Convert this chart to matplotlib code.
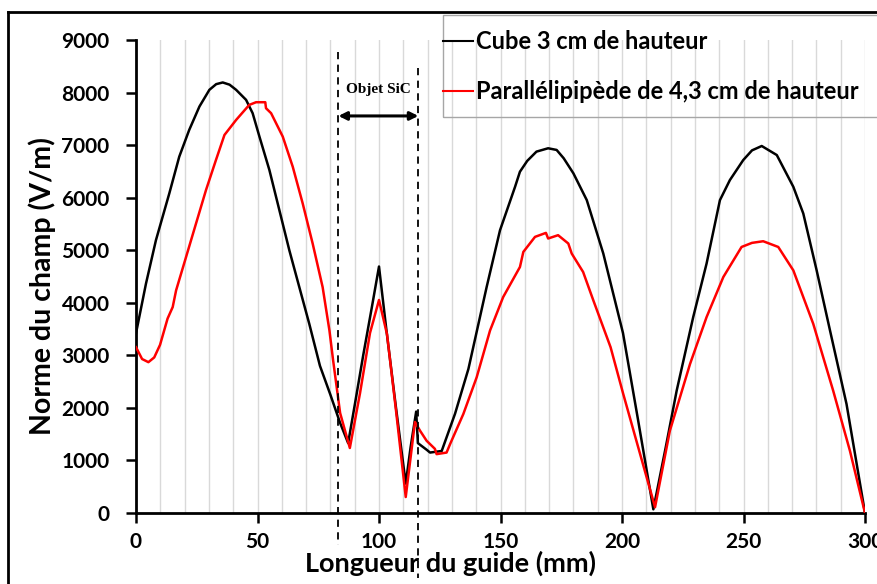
import matplotlib
matplotlib.use("Agg")
import matplotlib.pyplot as plt
from matplotlib.lines import Line2D
from matplotlib.patches import Rectangle

# ---- data ----
x_cube = [0, 4.1, 8.2, 13.7, 17.8, 21.9, 26.1, 30.2, 33, 35.7, 38.5, 41.2, 45.3, 48, 50.8,
          54.9, 59, 63.1, 67.2, 71.3, 75.7, 80, 84, 87.3, 90, 93.5, 97, 100, 103, 107, 111,
          113, 115.3, 116, 119.7, 121, 125.8, 131.3, 136.8, 144.3, 149.8, 156, 158, 161,
          164.8, 169.6, 173.1, 176, 180, 185.5, 192.3, 200.4, 206.5, 212.9, 218, 222.5,
          229.3, 234.8, 240.3, 244.4, 249.9, 253.5, 257.5, 263.7, 270.5, 274.6, 280.1,
          285.6, 292.4, 300]
y_cube = [3420, 4363, 5190, 6080, 6780, 7289, 7734, 8052, 8160, 8192, 8150, 8052, 7861, 7607,
          7161, 6525, 5762, 4999, 4299, 3600, 2800, 2250, 1713, 1330, 2050, 3000, 3900, 4690,
          3500, 2000, 560, 1250, 1930, 1330, 1200, 1150, 1180, 1890, 2742, 4300, 5380, 6208,
          6494, 6700, 6876, 6940, 6908, 6750, 6463, 5954, 4937, 3425, 1800, 70, 1250, 2328,
          3727, 4745, 5953, 6335, 6716, 6900, 6983, 6811, 6207, 5699, 4617, 3473, 2073, 0]

x_para = [0, 2.5, 5.1, 7.5, 9.9, 13, 15.1, 16.5, 20.6, 24.7, 28.8, 32.9, 36.4, 41.2, 46.6,
          49.4, 53.2, 53.5, 55.6, 60.4, 64.5, 68.6, 72.7, 76.8, 79.6, 81.1, 84, 88, 92.2,
          96.3, 100, 103.3, 107, 111, 114.8, 116.9, 119.6, 123, 123.7, 127.8, 129.3, 134.7,
          140.2, 145.7, 151.1, 158, 159.4, 164.2, 168.7, 169.6, 173.7, 177.9, 179.3, 184,
          188.2, 195.3, 200.4, 213.6, 219.7, 228, 234.8, 241.7, 249.2, 253.5, 258.1, 264.3,
          270.5, 278.7, 286.9, 293.8, 300]
y_para = [3155, 2930, 2870, 2960, 3200, 3700, 3918, 4236, 4871, 5508, 6144, 6716, 7193, 7479,
          7765, 7816, 7816, 7702, 7607, 7161, 6589, 5890, 5127, 4299, 3473, 2911, 1903, 1237,
          2283, 3425, 4053, 3400, 1950, 304, 1732, 1565, 1374, 1221, 1120, 1150, 1316, 1883,
          2583, 3473, 4109, 4681, 4968, 5254, 5330, 5223, 5286, 5128, 4937, 4586, 4046, 3155,
          2283, 110, 1565, 2836, 3727, 4490, 5062, 5140, 5171, 5062, 4617, 3600, 2328, 1183, 0]

labels = ["Cube 3 cm de hauteur", "Parallélipipède de 4,3 cm de hauteur"]
xticks = [0, 50, 100, 150, 200, 250, 300]
yticks = [0, 1000, 2000, 3000, 4000, 5000, 6000, 7000, 8000, 9000]
sic_left, sic_right = 83.3, 116.2
sic_label = "Objet SiC"

W, H = 878, 584
fig = plt.figure(figsize=(W / 100, H / 100), dpi=100)
ax = fig.add_axes([136 / W, 1 - 513 / H, (865 - 136) / W, (513 - 40) / H])

FONT = "Lato"

# vertical grid every 10 mm
for gx in range(10, 301, 10):
    ax.axvline(gx, color="#d9d9d9", lw=1.0, zorder=0)

ax.plot(x_cube, y_cube, color="black", lw=1.8, zorder=3, solid_joinstyle="round")
ax.plot(x_para, y_para, color="#ff0000", lw=1.8, zorder=3, solid_joinstyle="round")

ax.set_xlim(0, 300)
ax.set_ylim(0, 9000)
ax.set_xticks(xticks)
ax.set_yticks(yticks)
for s in ["top", "right"]:
    ax.spines[s].set_visible(False)
for s in ["left", "bottom"]:
    ax.spines[s].set_linewidth(2)
    ax.spines[s].set_color("black")
ax.tick_params(axis="y", length=7, width=1.8, pad=12)
ax.tick_params(axis="x", length=7, width=1.8, pad=7)
for lab in ax.get_xticklabels() + ax.get_yticklabels():
    lab.set_fontfamily(FONT)
    lab.set_fontweight("bold")
    lab.set_fontsize(15)

# SiC object markers
ax.plot([sic_left, sic_left], [8773, -609], ls=(0, (4, 3)), color="black", lw=1.3,
        clip_on=False, zorder=4)
ax.plot([sic_right, sic_right], [8468, -1237], ls=(0, (4, 3)), color="black", lw=1.3,
        clip_on=False, zorder=4)
ax.annotate("", xy=(sic_left, 7555), xytext=(sic_right, 7555),
            arrowprops=dict(arrowstyle="<|-|>", color="black", lw=2.2,
                            mutation_scale=12, shrinkA=0, shrinkB=0))
ax.text((sic_left + sic_right) / 2, 8050, sic_label, ha="center", va="center",
        fontfamily="Liberation Serif", fontweight="bold", fontsize=11)

# axis labels
fig.text(451 / W, 1 - 563 / H, "Longueur du guide (mm)", ha="center", va="center",
         fontfamily=FONT, fontweight="bold", fontsize=19.5)
fig.text(42 / W, 1 - 286 / H, "Norme du champ (V/m)", ha="center", va="center",
         rotation=90, fontfamily=FONT, fontweight="bold", fontsize=20.5)

# legend (frame drawn separately so the handles touch its left edge)
handles = [Line2D([], [], color="black", lw=1.5), Line2D([], [], color="#ff0000", lw=1.5)]
leg = fig.legend(handles, labels, loc="upper left", bbox_to_anchor=(443 / W, 1 - 30 / H),
                 frameon=False, handlelength=1.25, handletextpad=0.15, borderpad=0,
                 borderaxespad=0, labelspacing=1.15,
                 prop=dict(family=FONT, weight="bold", size=17))
fig.add_artist(Rectangle((443 / W, 1 - 117 / H), (900 - 443) / W, (117 - 15) / H,
                         transform=fig.transFigure, fill=False, edgecolor="#a6a6a6",
                         lw=1.0, clip_on=False))

# outer border (top and left)
fig.add_artist(Line2D([8 / W, 8 / W], [0, 1 - 12 / H], transform=fig.transFigure,
                      color="black", lw=2))
fig.add_artist(Line2D([8 / W, 1], [1 - 12 / H, 1 - 12 / H], transform=fig.transFigure,
                      color="black", lw=2))

fig.savefig("out.png", dpi=100)
